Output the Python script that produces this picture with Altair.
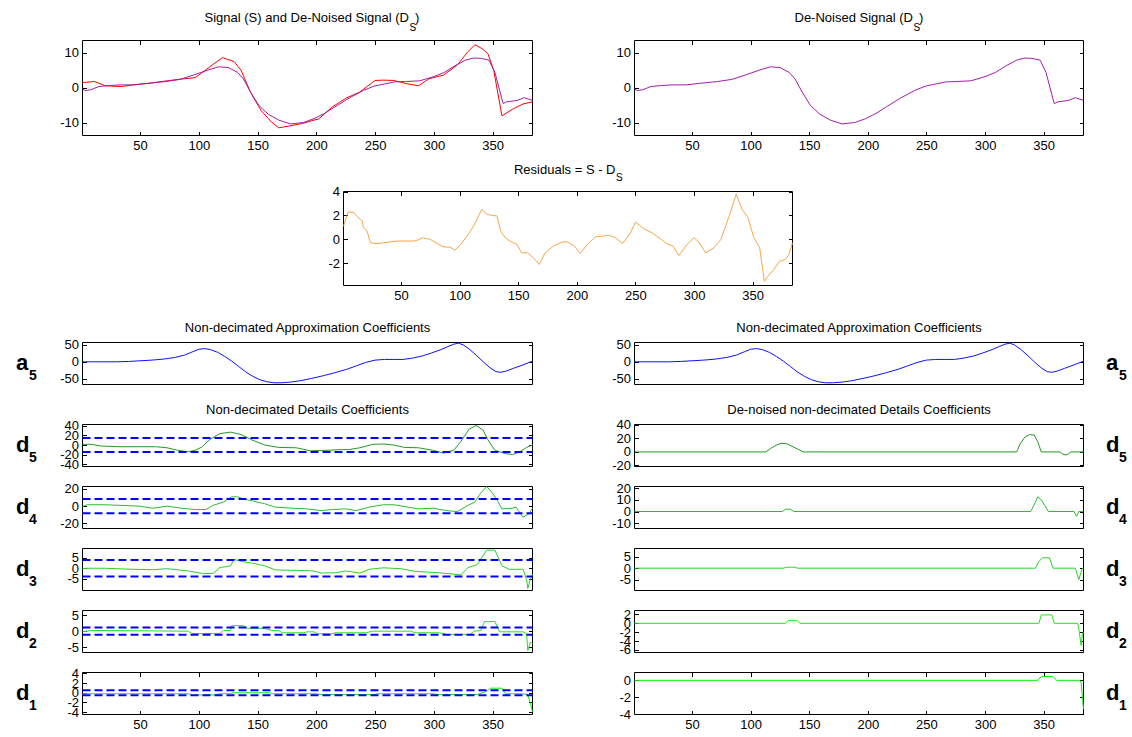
import altair as alt
import pandas as pd

FONT = "Liberation Sans"
W, H = 1132, 737
TICK = 4
N_FIRST, N_LAST = 1, 384
X_TICKS = [50, 100, 150, 200, 250, 300, 350]

# horizontal extents of the columns (pixels)
COL_LEFT = (82.5, 532.5)
COL_RIGHT = (634.5, 1083.5)
COL_MID = (343.5, 792.5)
# vertical extents (bottom, top) of the rows (pixels)
ROW_SIG = (135.5, 40.5)
ROW_RES = (285.5, 191.5)
ROW_A5 = (384.5, 342.5)
ROW_D5 = (466.5, 424.5)
ROW_D4 = (528.5, 486.5)
ROW_D3 = (590.5, 548.5)
ROW_D2 = (652.5, 610.5)
ROW_D1 = (714.5, 672.5)

# ---- signal (S) ----
sig_x = [1, 11, 20, 29, 35, 44, 58, 73, 85, 97, 109, 120, 130, 136, 144, 153, 162, 168, 177, 189,
         198, 202, 213, 225, 237, 250, 257, 266, 278, 287, 296, 308, 320, 329, 335, 341, 346, 351,
         358, 367, 376, 384]
sig_y = [1.5, 1.8, 0.65, 0.4, 0.4, 0.85, 1.3, 2.0, 2.5, 2.9, 5.9, 8.6, 7.5, 5.0, -1.3, -6.5, -9.8,
         -11.4, -10.9, -10.1, -9.2, -8.9, -5.6, -3.0, -1.2, 2.1, 2.2, 2.1, 1.1, 0.6, 2.6, 3.6, 6.5,
         10.3, 12.3, 11.2, 9.8, 5.0, -8.0, -6.1, -4.6, -4.0]

# ---- de-noised signal (D_S) ----
den_x = [1, 3, 8, 15, 24, 33, 45, 57, 72, 84, 96, 108, 117, 125, 133, 138, 144, 151, 159, 168,
         178, 189, 198, 207, 216, 228, 240, 249, 258, 267, 276, 288, 300, 309, 318, 327, 334, 340,
         347, 352, 359, 362, 371, 377, 384]
den_y = [-0.3, -0.75, -0.56, 0.37, 0.65, 0.84, 0.84, 1.3, 1.8, 2.4, 3.7, 5.1, 6.0, 5.8, 4.4, 2.5,
         -1.2, -5.0, -7.5, -9.2, -10.3, -9.9, -8.8, -7.3, -5.4, -2.9, -0.75, 0.47, 1.1, 1.7, 1.8,
         2.0, 3.2, 4.4, 6.3, 7.9, 8.5, 8.4, 7.9, 4.4, -4.5, -4.0, -3.6, -2.8, -3.6]

# ---- residuals ----
res_x = [1, 5, 10, 12, 17, 18, 21, 24, 30, 35, 41, 47, 61, 64, 69, 75, 81, 86, 92, 96, 101, 106,
         112, 119, 123, 128, 132, 135, 139, 143, 149, 153, 158, 163, 168, 173, 180, 188, 192, 198,
         203, 209, 216, 223, 227, 233, 239, 246, 250, 257, 264, 272, 277, 282, 287, 294, 300, 304,
         310, 317, 323, 331, 336, 341, 346, 351, 356, 360, 363, 368, 373, 378, 381, 384]
res_y = [1.1, 2.3, 2.24, 1.96, 1.54, 0.98, 0.7, -0.28, -0.36, -0.28, -0.2, -0.14, -0.14, -0.06,
         0.14, 0.0, -0.34, -0.62, -0.65, -0.9, -0.42, 0.22, 1.12, 2.52, 2.1, 2.0, 1.96, 0.7, 0.14,
         -0.14, -0.42, -1.12, -1.12, -1.54, -2.1, -1.12, -0.56, -0.2, -0.2, -0.56, -1.18, -0.42,
         0.22, 0.28, 0.36, 0.14, -0.34, 0.56, 1.46, 0.9, 0.56, 0.0, -0.36, -0.56, -1.34, -0.42,
         0.14, -0.22, -1.12, -0.7, 0.0, 2.24, 3.78, 2.52, 1.82, 0.14, -0.7, -3.5, -3.08, -2.52,
         -1.82, -1.68, -1.26, -0.28]

# ---- approximation a5 ----
a5_x = [1, 30, 40, 50, 60, 70, 80, 88, 95, 100, 105, 110, 116, 122, 128, 134, 140, 146, 152, 158,
        164, 170, 178, 186, 196, 206, 216, 226, 234, 242, 250, 258, 266, 274, 282, 290, 298, 306,
        312, 317, 321, 325, 330, 336, 342, 348, 353, 357, 362, 368, 376, 384]
a5_y = [0, 0, 1, 3, 5, 8, 13, 20, 30, 37, 39, 36, 28, 16, 2, -14, -30, -43, -53, -59,
        -62, -62, -60, -56, -49, -41, -32, -22, -12, -2, 5, 7, 7, 7, 11, 17, 26, 36,
        45, 52, 55, 50, 38, 20, 0, -18, -29, -31, -27, -19, -9, 2]

# ---- details (non-decimated) ----
d5_x = [1, 8, 17, 32, 49, 64, 73, 82, 91, 97, 103, 109, 118, 127, 136, 145, 156, 168, 183, 195,
        210, 222, 228, 237, 248, 257, 266, 275, 287, 299, 308, 317, 323, 330, 336, 342, 346, 352,
        361, 367, 373, 379, 384]
d5_y = [1.5, 1.5, -2, -3.6, -3.6, -3.6, -5.8, -11, -14, -11, -3.6, 11, 24, 27, 22, 11, 0, -5,
        -5.8, -12, -11, -9.5, -9.5, -5.8, 1.5, 2.2, 0, -5, -5.8, -11, -17, -11, 7.3, 33, 41, 31,
        11, -11, -18, -20, -14.5, -5, 0]
d4_x = [1, 5, 20, 49, 61, 73, 85, 97, 106, 112, 121, 128, 133, 139, 147, 156, 165, 180, 192, 204,
        213, 225, 234, 245, 257, 266, 278, 287, 299, 311, 320, 329, 335, 339, 345, 349, 354, 358,
        367, 370, 376, 381, 384]
d4_y = [-0.4, 1.6, 1.6, 0, -2.4, 0, -2.4, -4, -4, 0.8, 4.8, 10.8, 10.8, 8, 5.6, 2.8, -1.2, -2.4,
        -3.2, -5.2, -4, -3.2, -5.2, -1.2, 1.6, 1.6, -1.2, -3.2, -2.4, -5.2, -6.4, 0.8, 4.8, 13.6,
        22.8, 16.8, 6.8, -3.2, -2.4, -1.2, -13, -9, -2.4]
d3_x = [1, 5, 20, 44, 61, 73, 91, 103, 112, 118, 127, 130, 136, 145, 156, 165, 183, 198, 204,
        216, 225, 231, 237, 245, 257, 272, 284, 305, 323, 329, 337, 345, 352, 358, 364, 376, 379,
        380, 382, 384]
d3_y = [-0.2, 0, 0, -0.5, -0.7, -0.2, -1.3, -2.5, -2.5, 0.3, 1.2, 4.3, 3.3, 2.5, 1.2, -0.8, -1.0,
        -1.3, -2.3, -2.2, -1.3, -1.8, -2.3, -0.5, 0.2, -0.2, -1.5, -2.2, -3.2, 0.3, 1.8, 8.7, 8.7,
        1.2, -0.5, -0.5, -5.5, -9.7, -5.5, -3]
d2_x = [1, 8, 20, 91, 94, 118, 121, 127, 128, 138, 141, 156, 162, 168, 171, 189, 192, 198, 201,
        213, 216, 242, 248, 281, 284, 305, 311, 331, 334, 340, 343, 352, 356, 376, 379, 380, 382,
        384]
d2_y = [-0.2, 0.2, 0.2, 0, -0.7, -0.7, 0.2, 0.2, 1.7, 1.7, 0.9, 0.9, 0.2, 0.2, -0.5, -0.5, -0.2,
        -0.2, -0.8, -0.8, -0.5, -0.5, 0, 0, -0.5, -0.5, -1, -1, 0, 0.2, 2.9, 3.0, -0.2, -0.2, -0.8,
        -6, -3.5, -3.8]
d1_x = [1, 91, 93, 115, 117, 127, 129, 160, 162, 200, 202, 250, 252, 300, 302, 337, 340, 345,
        348, 358, 361, 376, 380, 382, 384]
d1_y = [-0.2, -0.2, -0.45, -0.45, -0.2, -0.2, 0.0, 0.0, -0.2, -0.2, -0.35, -0.35, -0.2, -0.2,
        -0.35, -0.35, -0.1, 0.3, 0.95, 0.95, -0.2, -0.2, -0.5, -2.0, -3.9]

# ---- de-noised details ----
d5r_x = [1, 113, 117, 122, 126, 131, 137, 145, 327, 330, 334, 338, 342, 345, 348, 364, 366, 369,
         371, 373, 384]
d5r_y = [0, 0, 5, 10, 12.8, 12, 7, 0, 0, 12, 22, 25.6, 25, 15, 0, 0, -3, -4.6, -3, 0, 0]
d4r_x = [1, 127, 130, 134, 137, 339, 342, 345, 348, 351, 354, 376, 378, 380, 384]
d4r_y = [0, 0, 2, 2, 0, 0, 6, 12.6, 10, 5, 0, 0, -4.1, 0, 0]
d3r_x = [1, 128, 131, 138, 140, 343, 346, 349, 355, 358, 377, 380, 383, 384]
d3r_y = [0, 0, 0.45, 0.45, 0, 0, 3, 4.6, 4.6, 0, 0, -5, 0, 0]
d2r_x = [1, 130, 132, 140, 142, 346, 348, 357, 359, 379, 380, 382, 383, 384]
d2r_y = [0, 0, 0.6, 0.6, 0, 0, 1.9, 1.9, 0, 0, -1.2, -5, -2.5, -2]
d1r_x = [1, 345, 348, 358, 361, 381, 382, 384]
d1r_y = [0, 0, 0.45, 0.45, 0, 0, -0.3, -3.4]

# thresholds per level
thresholds = {5: 14.5, 4: 8.3, 3: 4.0, 2: 1.1, 1: 0.5}

# axis limits and tick values
SIG_DOM, SIG_TICKS = [-13.6, 13.5], [-10, 0, 10]
RES_DOM, RES_TICKS = [-3.85, 4.0], [-2, 0, 2, 4]
A5_DOM, A5_TICKS = [-67, 57], [-50, 0, 50]
D_LEFT = {5: ([-45, 43], [-40, -20, 0, 20, 40]),
          4: ([-26, 22.8], [-20, 0, 20]),
          3: ([-10.7, 9.5], [-5, 0, 5]),
          2: ([-6.6, 6.4], [-5, 0, 5]),
          1: ([-4.5, 4.2], [-4, -2, 0, 2, 4])}
D_RIGHT = {5: ([-21.5, 40.5], [-20, 0, 20, 40]),
           4: ([-14.6, 21.5], [-10, 0, 10, 20]),
           3: ([-9.85, 8.7], [-5, 0, 5]),
           2: ([-6.6, 2.9], [-6, -4, -2, 0, 2]),
           1: ([-4.04, 0.93], [-4, -2, 0])}

C_SIG = "#ff0000"
C_DEN = "#a41ea8"
C_RES = "#f6a64a"
C_A5 = "#1010ff"
C_THR = "#0000ff"
C_D = {5: "#249a24", 4: "#2cbc2c", 3: "#2ccf2c", 2: "#1ee41e", 1: "#0af00a"}


def axis_common():
    return dict(grid=False, title=None, tickSize=TICK, tickColor="black", tickWidth=1,
                domain=False, labelFont=FONT, labelFontSize=13, labelColor="black",
                labelOverlap=False, labelExpr="'' + datum.value")


def panel(series, cols, rows, ydom, yticks, xaxis=False, thr=None, thr_color=C_THR):
    x0, x1 = cols
    yb, yt = rows
    xs = alt.Scale(domain=[N_FIRST, N_LAST], range=[x0, x1], nice=False, zero=False)
    ys = alt.Scale(domain=ydom, range=[yb, yt], nice=False, zero=False)
    ax_left = alt.Axis(orient="left", offset=-(x0 + TICK), values=yticks, labelPadding=4,
                       **axis_common())
    ax_right = alt.Axis(orient="right", offset=x1 - TICK - W, values=yticks, labels=False,
                        **axis_common())
    layers = []
    frame = pd.DataFrame({"x0": [N_FIRST], "x1": [N_LAST], "y0": [ydom[0]], "y1": [ydom[1]]})
    if xaxis:
        ax_top = alt.Axis(orient="top", offset=-(yt + TICK), values=X_TICKS, labels=False,
                          **axis_common())
        ax_bottom = alt.Axis(orient="bottom", offset=yb - TICK - H, values=X_TICKS,
                             labelPadding=4, labelFlush=False, **axis_common())
        fx = alt.X("x0:Q", scale=xs, axis=ax_top)
    else:
        ax_bottom = None
        fx = alt.X("x0:Q", scale=xs, axis=None)
    layers.append(
        alt.Chart(frame).mark_rect(fillOpacity=0, stroke="black", strokeWidth=1).encode(
            x=fx, x2="x1:Q", y=alt.Y("y0:Q", scale=ys, axis=ax_right), y2="y1:Q"))
    for i, (xv, yv, color) in enumerate(series):
        df = pd.DataFrame({"x": xv, "y": yv})
        first = i == 0
        layers.append(
            alt.Chart(df).mark_line(color=color, strokeWidth=1).encode(
                x=alt.X("x:Q", scale=xs, axis=ax_bottom if first else None),
                y=alt.Y("y:Q", scale=ys, axis=ax_left if first else None)))
    if thr is not None:
        tdf = pd.DataFrame({"x0": [N_FIRST, N_FIRST], "x1": [N_LAST, N_LAST], "t": [thr, -thr]})
        layers.append(
            alt.Chart(tdf).mark_rule(color=thr_color, strokeWidth=2, strokeDash=[8, 4]).encode(
                x=alt.X("x0:Q", scale=xs, axis=None), x2="x1:Q",
                y=alt.Y("t:Q", scale=ys, axis=None)))
    return layers


def text(s, x, y, size=13, weight="normal", align="center"):
    return alt.Chart(pd.DataFrame({"t": [s]})).mark_text(
        font=FONT, fontSize=size, fontWeight=weight, align=align, baseline="alphabetic",
        color="black").encode(x=alt.value(x), y=alt.value(y), text="t:N")


layers = []
# signal and de-noised signal
layers += panel([(sig_x, sig_y, C_SIG), (den_x, den_y, C_DEN)], COL_LEFT, ROW_SIG,
                SIG_DOM, SIG_TICKS, xaxis=True)
layers += panel([(den_x, den_y, C_DEN)], COL_RIGHT, ROW_SIG, SIG_DOM, SIG_TICKS, xaxis=True)
# residuals
layers += panel([(res_x, res_y, C_RES)], COL_MID, ROW_RES, RES_DOM, RES_TICKS, xaxis=True)
# approximation coefficients (same on both sides)
layers += panel([(a5_x, a5_y, C_A5)], COL_LEFT, ROW_A5, A5_DOM, A5_TICKS)
layers += panel([(a5_x, a5_y, C_A5)], COL_RIGHT, ROW_A5, A5_DOM, A5_TICKS)

detail_rows = {5: ROW_D5, 4: ROW_D4, 3: ROW_D3, 2: ROW_D2, 1: ROW_D1}
detail_left = {5: (d5_x, d5_y), 4: (d4_x, d4_y), 3: (d3_x, d3_y), 2: (d2_x, d2_y), 1: (d1_x, d1_y)}
detail_right = {5: (d5r_x, d5r_y), 4: (d4r_x, d4r_y), 3: (d3r_x, d3r_y), 2: (d2r_x, d2r_y),
                1: (d1r_x, d1r_y)}
for lev in [5, 4, 3, 2, 1]:
    xl, yl = detail_left[lev]
    dom, ticks = D_LEFT[lev]
    layers += panel([(xl, yl, C_D[lev])], COL_LEFT, detail_rows[lev], dom, ticks,
                    xaxis=(lev == 1), thr=thresholds[lev])
    xr, yr = detail_right[lev]
    dom, ticks = D_RIGHT[lev]
    layers += panel([(xr, yr, C_D[lev])], COL_RIGHT, detail_rows[lev], dom, ticks,
                    xaxis=(lev == 1))

# panel titles (with subscript S)
layers += [
    text("Signal (S) and De-Noised Signal (D", 409, 22, align="right"),
    text("S", 409.5, 30.5, size=10, align="left"),
    text(")", 415, 22, align="left"),
    text("De-Noised Signal (D", 913, 22, align="right"),
    text("S", 913.5, 30.5, size=10, align="left"),
    text(")", 919, 22, align="left"),
    text("Residuals = S - D", 615.5, 173.5, align="right"),
    text("S", 616, 180.5, size=10, align="left"),
    text("Non-decimated Approximation Coefficients", (COL_LEFT[0] + COL_LEFT[1]) / 2, 332),
    text("Non-decimated Approximation Coefficients", (COL_RIGHT[0] + COL_RIGHT[1]) / 2, 332),
    text("Non-decimated Details Coefficients", (COL_LEFT[0] + COL_LEFT[1]) / 2, 414),
    text("De-noised non-decimated Details Coefficients", (COL_RIGHT[0] + COL_RIGHT[1]) / 2, 414),
]

# row labels a5, d5 ... d1 on both sides
row_labels = [("a", "5", ROW_A5), ("d", "5", ROW_D5), ("d", "4", ROW_D4), ("d", "3", ROW_D3),
              ("d", "2", ROW_D2), ("d", "1", ROW_D1)]
for letter, sub, (yb, yt) in row_labels:
    mid = (yb + yt) / 2
    for lx in (16, 1106):
        layers.append(text(letter, lx, mid + 6, size=22, weight="bold", align="left"))
        layers.append(text(sub, lx + 13, mid + 16, size=14, weight="bold", align="left"))

chart = alt.layer(*layers).resolve_scale(x="independent", y="independent").properties(
    width=W, height=H, autosize=alt.AutoSizeParams(type="none"), padding=0
).configure_view(strokeWidth=0)

chart.save("out.html", embed_options={"renderer": "svg", "actions": False})
